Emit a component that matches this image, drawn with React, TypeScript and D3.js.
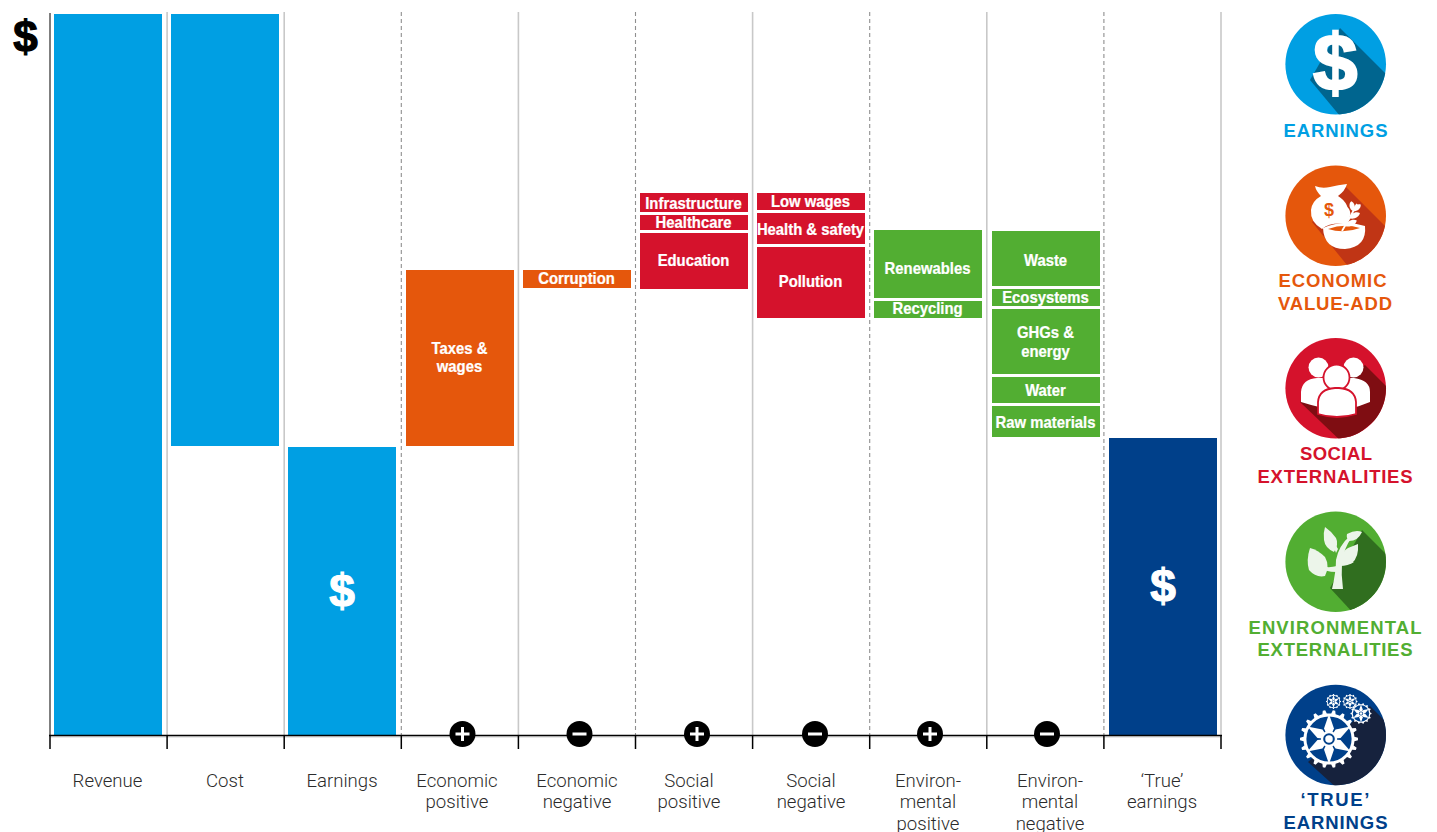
import React from "react";
import * as d3 from "d3";

// ---- data (value = arbitrary $ units) ----
const categories = [
  ["Revenue"], ["Cost"], ["Earnings"], ["Economic", "positive"], ["Economic", "negative"],
  ["Social", "positive"], ["Social", "negative"], ["Environ-", "mental", "positive"],
  ["Environ-", "mental", "negative"], ["‘True’", "earnings"],
];
const colBlocks = [
  [{ lo: 0, hi: 722, kind: "earn", label: [] }],
  [{ lo: 290, hi: 722, kind: "earn", label: [] }],
  [{ lo: 0, hi: 289, kind: "earn", label: [] }],
  [{ lo: 290, hi: 466, kind: "econ", label: ["Taxes &", "wages"] }],
  [{ lo: 448, hi: 466, kind: "econ", label: ["Corruption"] }],
  [
    { lo: 524, hi: 543, kind: "soc", label: ["Infrastructure"] },
    { lo: 506, hi: 521, kind: "soc", label: ["Healthcare"] },
    { lo: 447, hi: 503, kind: "soc", label: ["Education"] },
  ],
  [
    { lo: 526, hi: 543, kind: "soc", label: ["Low wages"] },
    { lo: 492, hi: 523, kind: "soc", label: ["Health & safety"] },
    { lo: 418, hi: 489, kind: "soc", label: ["Pollution"] },
  ],
  [
    { lo: 438, hi: 506, kind: "env", label: ["Renewables"] },
    { lo: 418, hi: 435, kind: "env", label: ["Recycling"] },
  ],
  [
    { lo: 450, hi: 505, kind: "env", label: ["Waste"] },
    { lo: 430, hi: 447, kind: "env", label: ["Ecosystems"] },
    { lo: 362, hi: 427, kind: "env", label: ["GHGs &", "energy"] },
    { lo: 333, hi: 359, kind: "env", label: ["Water"] },
    { lo: 299, hi: 330, kind: "env", label: ["Raw materials"] },
  ],
  [{ lo: 0, hi: 298, kind: "true", label: [] }],
];
const signs = ["", "", "", "+", "-", "+", "-", "+", "-", ""];
const dollarColumns = [2, 9];
const legendTitles = [
  ["EARNINGS"], ["ECONOMIC", "VALUE-ADD"], ["SOCIAL", "EXTERNALITIES"],
  ["ENVIRONMENTAL", "EXTERNALITIES"], ["‘TRUE’", "EARNINGS"],
];

// ---- styling ----
const COLORS: Record<string, string> = { earn: "#009fe3", econ: "#e5570c", soc: "#d5122c", env: "#52ae32", true: "#00408a" };
const SANS = "'Liberation Sans',Arial,sans-serif";
const LIGHT = "Roboto,sans-serif";

const x = d3.scaleLinear().domain([0, 10]).range([50, 1221]);
const barX = d3.scaleLinear().domain([0, 9]).range([54, 1108.8]).interpolate(d3.interpolateRound);
const y = d3.scaleLinear().domain([0, 722]).range([736, 14]);
const BAR_W = 108;

const solidRules = [1, 2, 4, 6, 8, 10];
const dashedRules = [3, 5, 7, 9];

const labelCentres = [107.5, 225, 342, 457, 577, 689, 811, 928, 1050, 1162];
const badgeCentres = [0, 0, 0, 462.5, 579.5, 697, 815, 930, 1047, 0];
const textNudge: Record<string, number> = { Renewables: 4, Education: -1, Pollution: -2, Waste: 1.5, Corruption: -1, Recycling: -1.5, Healthcare: -1, "Low wages": -0.5, Ecosystems: -1, "Taxes &": -1, wages: -1.5, "GHGs &": -1 };

const gearPath = (cx: number, cy: number, rOut: number, rIn: number, teeth: number) => {
  const pts: [number, number][] = [];
  for (let i = 0; i < teeth; i++) {
    const a = (i / teeth) * 2 * Math.PI;
    const s = (2 * Math.PI) / teeth;
    [[-0.5, rIn], [-0.25, rIn], [-0.12, rOut], [0.12, rOut], [0.25, rIn]].forEach(([f, r]) =>
      pts.push([cx + r * Math.cos(a + f * s), cy + r * Math.sin(a + f * s)]),
    );
  }
  return d3.line()(pts) + "Z";
};

const Gear = ({ cx, cy, r, teeth, bg }: any) => {
  const blades = d3.range(6).map((i) => i * 60 + 30);
  const bl = r * 0.86;
  return (
    <g>
      <path d={gearPath(cx, cy, r, r * 0.88, teeth)} fill="#fff" />
      <circle cx={cx} cy={cy} r={r * 0.78} fill={bg} />
      {blades.map((a) => (
        <path
          key={a}
          transform={`translate(${cx},${cy}) rotate(${a})`}
          d={`M0,0 L${bl * 0.42},${-bl * 0.2} L${bl},0 L${bl * 0.42},${bl * 0.2}Z`}
          fill="#fff"
        />
      ))}
      <circle cx={cx} cy={cy} r={r * 0.28} fill="#fff" />
      <circle cx={cx} cy={cy} r={r * 0.2} fill={bg} />
      <circle cx={cx} cy={cy} r={r * 0.13} fill="#fff" />
    </g>
  );
};

const Badge = ({ cy, fill, shadow, poly, id, children }: any) => (
  <g>
    <clipPath id={id}><circle cx={1335.7} cy={cy} r={50.3} /></clipPath>
    <circle cx={1335.7} cy={cy} r={50.3} fill={fill} />
    <polygon points={poly} fill={shadow} clipPath={`url(#${id})`} />
    {children}
  </g>
);

const leaf = (x0: number, y0: number, len: number, w: number, a: number, fill = "#fff") => (
  <path
    transform={`translate(${x0},${y0}) rotate(${a})`}
    d={`M0,0 C${len * 0.25},${-w} ${len * 0.8},${-w} ${len},0 C${len * 0.8},${w} ${len * 0.25},${w} 0,0Z`}
    fill={fill}
  />
);

const Icons = () => (
  <g>
    <Badge cy={64.3} id="c1" fill="#009fe3" shadow="#00658f" poly="1340,28 1400,88 1360,140 1310,80">
      <text x={1335.3} y={90} textAnchor="middle" fontFamily={SANS} fontWeight={700} fontSize={80} fill="#fff" stroke="#fff" strokeWidth={2.2}>$</text>
    </Badge>

    <Badge cy={215.7} id="c2" fill="#e5570c" shadow="#c03515" poly="1345,186 1400,241 1360,281 1312,222">
      <path d="M1315,186 Q1322,189 1330,187 Q1338,185 1347,184 Q1345,191 1338,196 Q1350,203 1349,219 L1347,224 Q1330,222 1322,229 Q1310,222 1311,210 Q1312,201 1321,196 Q1316,191 1315,186Z" fill="#fff" />
      <text x={1329} y={216} textAnchor="middle" fontFamily={SANS} fontWeight={700} fontSize={18} fill="#e5570c">$</text>
      <path d="M1323,228 Q1343,219 1365,226 Q1367,247 1345,249 Q1324,249 1323,228Z" fill="#fff" />
      <path d="M1328,229 Q1344,223 1360,228 Q1344,234 1328,229Z" fill="#e5570c" />
      <path d="M1342,231 Q1350,218 1357,204" stroke="#fff" strokeWidth={1.8} fill="none" />
      {leaf(1345, 226, 12, 3.6, -100)}
      {leaf(1349, 218, 12, 3.6, -105)}
      {leaf(1353, 211, 10, 3.4, -100)}
      {leaf(1345, 226, 13, 3.6, -25)}
      {leaf(1349, 218, 12, 3.6, -25)}
      {leaf(1353, 211, 10, 3.4, -40)}
    </Badge>

    <Badge cy={388.3} id="c3" fill="#d5122c" shadow="#7f0d12" poly="1365,365 1400,400 1345,445 1300,402">
      <circle cx={1318.5} cy={367.5} r={10} fill="#fff" />
      <circle cx={1353.5} cy={367.5} r={10} fill="#fff" />
      <path d="M1301,402 L1301,392 Q1302,379 1317,378 L1354,378 Q1370,380 1370,392 L1370,402 Q1345,412 1336,410 Q1320,408 1301,402Z" fill="#fff" />
      <circle cx={1336.5} cy={377.5} r={13} fill="#fff" stroke="#d5122c" strokeWidth={1.8} />
      <path d="M1318,414 L1318,402 Q1319,389 1335,388 L1339,388 Q1355,389 1356,402 L1356,414 Q1337,420 1318,414Z" fill="#fff" stroke="#d5122c" strokeWidth={1.8} />
    </Badge>

    <Badge cy={561.7} id="c4" fill="#52ae32" shadow="#306e1f" poly="1362,530 1400,568 1355,615 1330,588">
      <path d="M1332,589 Q1336,572 1336,560 Q1339,545 1350,536 L1352,537 Q1344,548 1342,562 Q1341,575 1343,589Z" fill="#ecf5ea" />
      <path d="M1337,572 Q1325,572 1314,566 L1315,564 Q1326,569 1337,566Z" fill="#ecf5ea" />
      <path d="M1340,566 Q1348,566 1354,562 L1340,560Z" fill="#ecf5ea" />
      <path d="M1336,553 Q1333,545 1332,540 L1334,539 Q1336,546 1338,549Z" fill="#ecf5ea" />
      <path d="M1310,548 Q1306,560 1309,570 Q1316,578 1325,576 Q1330,566 1325,557 Q1318,550 1310,548Z" fill="#ecf5ea" />
      <path d="M1325,527 Q1331,531 1336,538 Q1339,544 1334,552 Q1325,548 1324,540 Q1323,533 1325,527Z" fill="#ecf5ea" />
      <path d="M1347,534 Q1356,529 1362,532 Q1358,541 1349,541 Q1346,538 1347,534Z" fill="#ecf5ea" />
      <path d="M1358,544 Q1359,557 1352,563 Q1345,566 1340,561 Q1341,552 1348,548 Q1353,546 1358,544Z" fill="#ecf5ea" />
    </Badge>

    <Badge cy={735} id="c5" fill="#00408a" shadow="#16223d" poly="1370,706 1400,736 1350,800 1308,762">
      <Gear cx={1329} cy={739} r={29} teeth={18} bg="#00408a" />
      <Gear cx={1333.5} cy={701.5} r={7.5} teeth={12} bg="#00408a" />
      <Gear cx={1350} cy={701.5} r={7.5} teeth={12} bg="#00408a" />
      <Gear cx={1361} cy={713.5} r={10.5} teeth={14} bg="#00408a" />
    </Badge>
  </g>
);

const legendLayout = [
  { colour: "#009fe3", lines: [{ cx: 1335.5, y: 136.5, w: 104 }] },
  { colour: "#e5570c", lines: [{ cx: 1332.5, y: 286.5, w: 108 }, { cx: 1335, y: 310, w: 114 }] },
  { colour: "#d5122c", lines: [{ cx: 1336, y: 460, w: 72 }, { cx: 1335, y: 482.5, w: 155 }] },
  { colour: "#52ae32", lines: [{ cx: 1335, y: 634, w: 173 }, { cx: 1335, y: 656, w: 155 }] },
  { colour: "#00408a", lines: [{ cx: 1335, y: 806, w: 69 }, { cx: 1335.5, y: 829, w: 104 }] },
];

export default function App() {
  return (
    <svg width={1437} height={832} style={{ position: "absolute", left: 0, top: 0, display: "block", background: "#fff" }}>
      {/* rules */}
      {solidRules.map((i) => (
        <line key={i} x1={x(i)} x2={x(i)} y1={12} y2={736} stroke="#c8c8c8" strokeWidth={1.6} />
      ))}
      {dashedRules.map((i) => (
        <line key={i} x1={x(i)} x2={x(i)} y1={12} y2={736} stroke="#8f8f8f" strokeWidth={1.1} strokeDasharray="4 3" />
      ))}
      <line x1={x(0)} x2={x(0)} y1={13} y2={736} stroke="#555" strokeWidth={1.5} />

      {/* blocks */}
      {colBlocks.map((blocks, i) =>
        blocks.map((b, j) => {
          const top = y(b.hi);
          const h = y(b.lo) - top;
          const bx = barX(i);
          const mid = top + h / 2;
          return (
            <g key={`${i}-${j}`}>
              <rect x={bx} y={top} width={BAR_W} height={h} fill={COLORS[b.kind]} />
              {b.label.map((t, k) => (
                <text
                  key={t}
                  transform={`translate(${bx + BAR_W / 2 - 0.5},${mid + 6 + (textNudge[t] ?? 0) + (k - (b.label.length - 1) / 2) * 18}) scale(0.9,1)`}
                  textAnchor="middle"
                  fontFamily={SANS}
                  fontWeight={700}
                  fontSize={16.5}
                  fill="#fff"
                  stroke="#fff"
                  strokeWidth={0.25}
                >
                  {t}
                </text>
              ))}
            </g>
          );
        }),
      )}

      {/* big dollar signs */}
      <text x={25.5} y={52} textAnchor="middle" fontFamily={SANS} fontWeight={700} fontSize={44} fill="#000" stroke="#000" strokeWidth={1.2}>$</text>
      {dollarColumns.map((i, k) => (
        <text key={i} x={barX(i) + BAR_W / 2} y={k === 0 ? 607 : 602} textAnchor="middle" fontFamily={SANS} fontWeight={700} fontSize={46} fill="#fff" stroke="#fff" strokeWidth={1.2}>$</text>
      ))}

      {/* axis */}
      <line x1={x(0)} x2={x(10)} y1={737} y2={737} stroke="#cfcfcf" strokeWidth={1} />
      <line x1={x(0) - 1} x2={x(10) + 1} y1={735.5} y2={735.5} stroke="#000" strokeWidth={1.4} />
      {d3.range(11).map((i) => (
        <line key={i} x1={x(i)} x2={x(i)} y1={735} y2={749} stroke="#000" strokeWidth={1.5} />
      ))}

      {/* +/- badges */}
      {signs.map((s, i) =>
        s ? (
          <g key={i} transform={`translate(${badgeCentres[i]},734)`}>
            <circle r={13} fill="#000" />
            <rect x={-7} y={-1.5} width={14} height={3} fill="#fff" />
            {s === "+" && <rect x={-1.5} y={-7} width={3} height={14} fill="#fff" />}
          </g>
        ) : null,
      )}

      {/* category labels */}
      {categories.map((lines, i) => (
        <text key={i} textAnchor="middle" fontFamily={LIGHT} fontWeight={300} fontSize={18.6} fill="#2b2b2b">
          {lines.map((t, k) => (
            <tspan key={k} x={labelCentres[i]} y={786.5 + k * 21.6}>{t}</tspan>
          ))}
        </text>
      ))}

      <Icons />

      {/* legend titles */}
      {legendTitles.map((lines, i) =>
        lines.map((t, k) => {
          const l = legendLayout[i].lines[k];
          return (
            <text
              key={t}
              x={l.cx - l.w / 2}
              y={l.y}
              textLength={l.w}
              lengthAdjust="spacing"
              fontFamily={SANS}
              fontWeight={700}
              fontSize={18.5}
              fill={legendLayout[i].colour}
            >
              {t}
            </text>
          );
        }),
      )}
    </svg>
  );
}
